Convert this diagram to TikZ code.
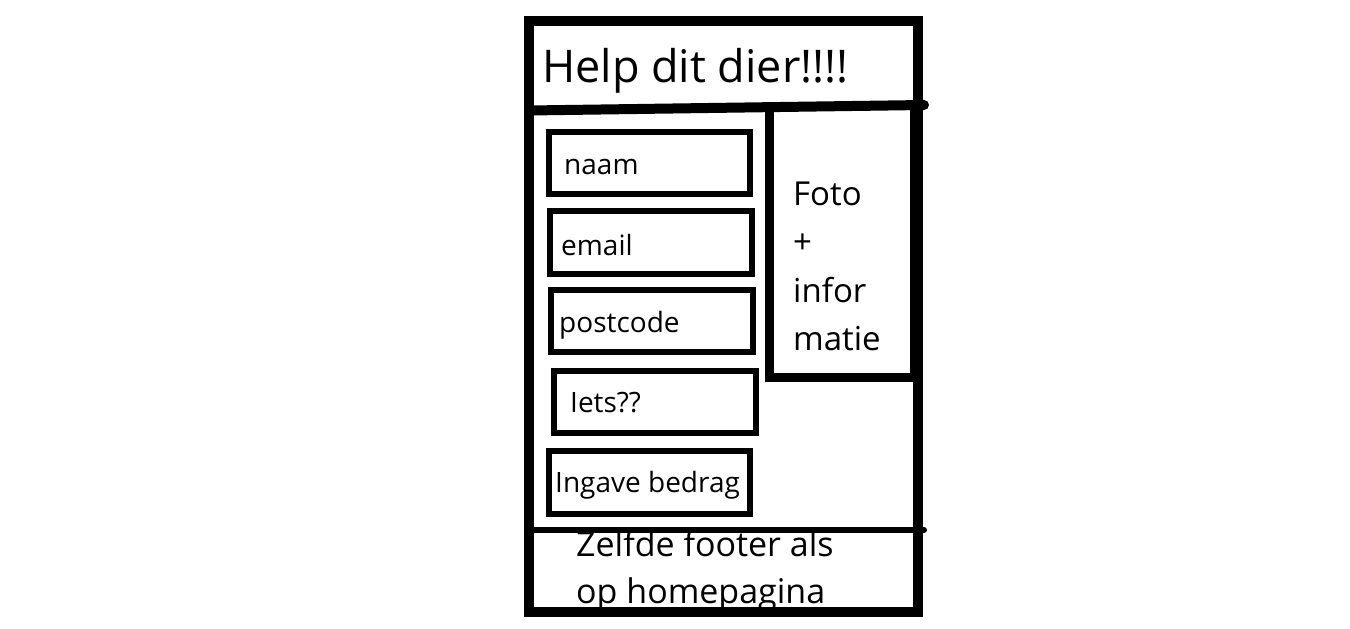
\documentclass[tikz,border=0pt]{standalone}
\usepackage{fontspec}
\setmainfont{Open Sans}
\begin{document}
\begin{tikzpicture}[x=1pt,y=-1pt,
  field/.style={draw=black,line width=6pt},
  txt/.style={anchor=base west,inner sep=0pt},
  lbl/.style={txt,font=\fontsize{28}{28}\selectfont},
  fotolbl/.style={txt,font=\fontsize{33}{33}\selectfont},
  footlbl/.style={txt,font=\fontsize{34}{34}\selectfont},
  heavy/.style={draw=black,line width=10pt},
]
\useasboundingbox (0,0) rectangle (1350,629);
% texts
\node[txt,font=\fontsize{45}{45}\selectfont] (title) at (542,82) {Help dit dier!!!!};
\node[fotolbl] (foto) at (793,205) {Foto};
\node[fotolbl] (plus) at (793,253) {+};
\node[fotolbl] (infor) at (793,302) {infor};
\node[fotolbl] (matie) at (793,350) {matie};
\node[footlbl] (foot1) at (576,556) {Zelfde footer als};
\node[footlbl] (foot2) at (576,603) {op homepagina};
% form fields
\draw[field] (549,132) rectangle (750,194);
\node[lbl] (naam) at (564,174) {naam};
\draw[field] (550,211) rectangle (752,274);
\node[lbl] (email) at (561,255) {email};
\draw[field] (551,290) rectangle (753,352);
\node[lbl] (postcode) at (559,332) {postcode};
\draw[field] (554,371) rectangle (756,433);
\node[lbl] (iets) at (570,412) {Iets??};
\draw[field] (549,451) rectangle (750,514);
\node[lbl] (bedrag) at (555,492) {Ingave bedrag};
% photo box
\draw[black,line width=9pt] (769,108) -- (769,377) -- (914,377) -- (914,108);
% frame
\draw[heavy] (529,21) rectangle (918,612);
% header line
\draw[black,line width=10pt,line cap=round] (529,110.5) -- (924,105);
% footer line
\draw[black,line width=6pt,line cap=round] (531,530) -- (924,530);
\end{tikzpicture}
\end{document}
